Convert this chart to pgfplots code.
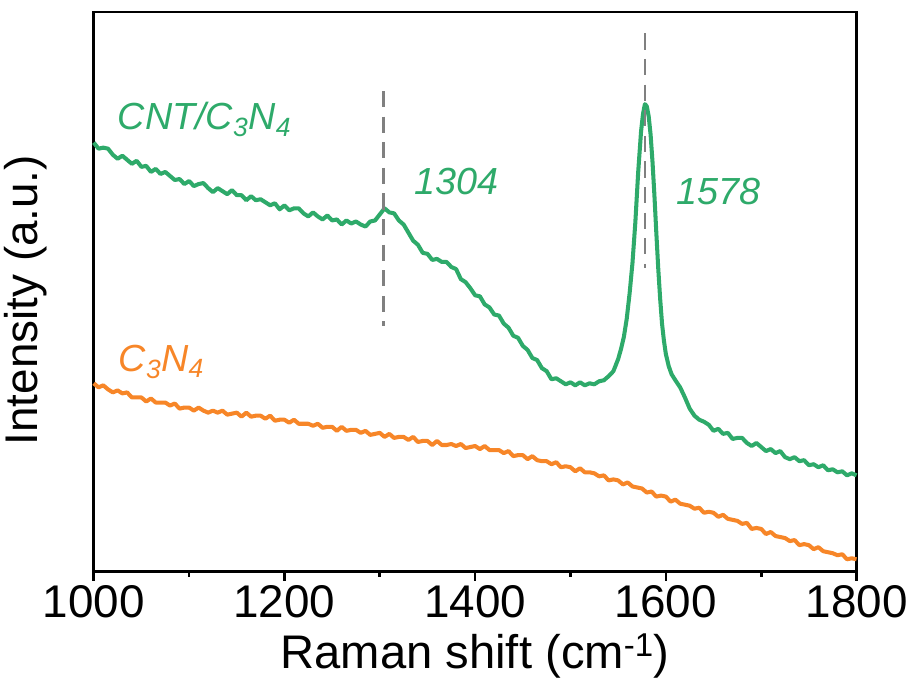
\documentclass[border=0pt]{standalone}
\usepackage{fontspec}
\setmainfont{Liberation Sans}
\setsansfont{Liberation Sans}
\usepackage{pgfplots}
\pgfplotsset{compat=1.18}
\definecolor{cntgreen}{RGB}{46,170,106}
\definecolor{cnorange}{RGB}{247,134,40}
\definecolor{dashgray}{RGB}{128,128,128}

% CNT/C3N4 spectrum (intensity in arbitrary units)
\pgfplotstableread{
x y
1000 424
1005 418
1010 419
1015 418
1020 412
1025 408
1030 411
1035 407
1040 403
1045 406
1050 400
1055 401
1060 395
1065 398
1070 393
1075 395
1080 391
1085 387
1090 388
1095 383
1100 386
1105 381
1110 383
1115 384
1120 379
1125 375
1130 379
1135 376
1140 373
1145 377
1150 372
1155 372
1160 367
1165 371
1170 367
1175 368
1180 365
1185 362
1190 364
1195 358
1200 362
1205 357
1210 359
1215 359
1220 354
1225 351
1230 355
1235 351
1240 348
1245 352
1250 347
1255 348
1260 343
1265 347
1270 344
1275 346
1280 343
1285 341
1290 346
1295 347
1300 353
1305 359
1310 355
1315 354
1320 347
1325 343
1330 335
1335 327
1340 323
1345 315
1350 314
1355 308
1360 309
1365 306
1370 306
1375 301
1380 299
1385 289
1390 286
1395 280
1400 273
1405 272
1410 264
1415 261
1420 254
1425 253
1430 245
1435 241
1440 233
1445 231
1450 223
1455 219
1460 211
1465 209
1470 201
1475 198
1480 190
1485 191
1490 188
1495 185
1500 187
1505 184
1510 187
1515 184
1520 186
1525 185
1530 188
1535 189
1540 193
1545 198
1550 210
1553 220
1556 232
1559 250
1562 275
1565 305
1568 345
1571 395
1574 435
1576 452
1578 462
1580 460
1582 450
1584 432
1586 405
1588 372
1590 335
1592 300
1594 270
1596 245
1598 228
1600 215
1603 203
1606 195
1610 189
1615 182
1620 172
1625 161
1630 154
1635 150
1640 148
1645 145
1650 139
1655 141
1660 136
1665 137
1670 131
1675 132
1680 132
1685 127
1690 124
1695 127
1700 123
1705 119
1710 121
1715 117
1720 119
1725 113
1730 111
1735 113
1740 109
1745 110
1750 105
1755 106
1760 103
1765 105
1770 100
1775 101
1780 98
1785 99
1790 95
1795 97
1800 95
}\cntdata

% C3N4 spectrum
\pgfplotstableread{
x y
1000 186
1005 182
1010 184
1015 180
1020 177
1025 179
1030 176
1035 177
1040 172
1045 172
1050 172
1055 168
1060 171
1065 167
1070 167
1075 167
1080 164
1085 166
1090 161
1095 162
1100 162
1105 159
1110 162
1115 159
1120 157
1125 159
1130 157
1135 159
1140 155
1145 156
1150 157
1155 153
1160 157
1165 153
1170 154
1175 154
1180 151
1185 154
1190 149
1195 150
1200 150
1205 147
1210 150
1215 146
1220 146
1225 146
1230 144
1235 146
1240 142
1245 143
1250 143
1255 139
1260 143
1265 139
1270 140
1275 140
1280 137
1285 139
1290 135
1295 136
1300 137
1305 133
1310 136
1315 132
1320 133
1325 133
1330 130
1335 133
1340 128
1345 129
1350 129
1355 125
1360 129
1365 125
1370 125
1375 126
1380 124
1385 126
1390 122
1395 123
1400 124
1405 121
1410 124
1415 120
1420 120
1425 120
1430 117
1435 119
1440 114
1445 115
1450 115
1455 111
1460 114
1465 110
1470 109
1475 109
1480 106
1485 108
1490 103
1495 104
1500 103
1505 99
1510 102
1515 98
1520 98
1525 97
1530 94
1535 95
1540 90
1545 91
1550 90
1555 86
1560 88
1565 84
1570 83
1575 82
1580 78
1585 79
1590 74
1595 75
1600 74
1605 69
1610 71
1615 67
1620 66
1625 65
1630 62
1635 63
1640 58
1645 59
1650 58
1655 54
1660 56
1665 52
1670 51
1675 50
1680 47
1685 48
1690 42
1695 43
1700 42
1705 37
1710 39
1715 35
1720 34
1725 33
1730 30
1735 31
1740 26
1745 27
1750 26
1755 22
1760 24
1765 20
1770 19
1775 18
1780 16
1785 17
1790 12
1795 13
1800 12
}\cndata

\begin{document}
\begin{tikzpicture}
\begin{axis}[
  scale only axis,
  width=566pt, height=415pt,
  xmin=1000, xmax=1800,
  ymin=0, ymax=553,
  xtick={1000,1200,1400,1600,1800},
  minor x tick num=1,
  ytick=\empty,
  xtick pos=bottom,
  tick align=outside,
  axis line style={line width=2pt},
  every tick/.style={black, line width=2pt},
  major tick length=7pt,
  minor tick length=4pt,
  /pgf/number format/assume math mode=true,
  /pgf/number format/1000 sep={},
  ticklabel style={font=\fontsize{34}{40}\selectfont},
  xlabel={Raman shift (cm\textsuperscript{-1})},
  ylabel={Intensity (a.u.)},
  xlabel style={font=\fontsize{35}{42}\selectfont, yshift=-5pt},
  ylabel style={font=\fontsize{34}{40}\selectfont, at={(ticklabel cs:0.485)}},
  ylabel shift=24pt,
  clip=false,
]
  \addplot[color=cntgreen, line width=3pt, line join=round] table[x=x, y=y] {\cntdata};
  \addplot[color=cnorange, line width=3pt, line join=round] table[x=x, y=y] {\cndata};

  \draw[dashgray, line width=2pt, dash pattern=on 12pt off 7pt] (axis cs:1304,475) -- (axis cs:1304,243);
  \draw[dashgray, line width=2pt, dash pattern=on 12pt off 7pt] (axis cs:1578,532) -- (axis cs:1578,300);

  \node[anchor=base west, inner sep=0pt, text=cntgreen, font=\fontsize{28}{32}\selectfont\itshape]
    at (axis cs:1025,437) {CNT/C\textsubscript{3}N\textsubscript{4}};
  \node[anchor=base west, inner sep=0pt, text=cnorange, font=\fontsize{28}{32}\selectfont\itshape]
    at (axis cs:1026,198) {C\textsubscript{3}N\textsubscript{4}};
  \node[anchor=base west, inner sep=0pt, text=cntgreen, font=\fontsize{28}{32}\selectfont\itshape]
    at (axis cs:1336,373) {1304};
  \node[anchor=base west, inner sep=0pt, text=cntgreen, font=\fontsize{28}{32}\selectfont\itshape]
    at (axis cs:1611,363) {1578};
\end{axis}
\path ([yshift=9pt]current axis.north);
\end{tikzpicture}
\end{document}
